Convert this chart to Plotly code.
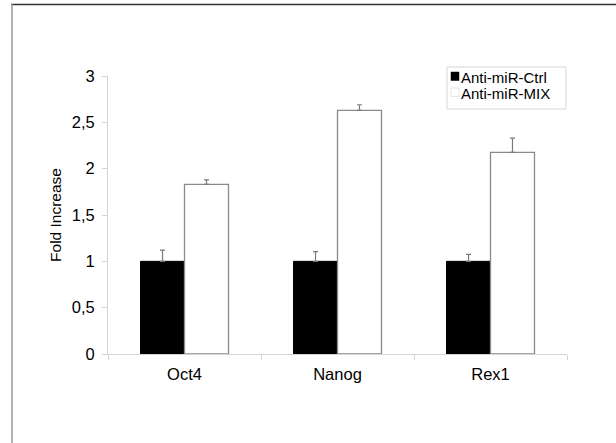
import plotly.graph_objects as go

# Gene expression after anti-miR treatment
genes = ["Oct4", "Nanog", "Rex1"]
ctrl_values = [1.0, 1.0, 1.0]
ctrl_errors = [0.12, 0.105, 0.075]
mix_values = [1.83, 2.63, 2.175]
mix_errors = [0.05, 0.06, 0.155]
series_names = ["Anti-miR-Ctrl", "Anti-miR-MIX"]
y_ticks = [0, 0.5, 1, 1.5, 2, 2.5, 3]

W, H = 616, 443
L, R, T, B = 108, 49, 76, 89
PW, PH = W - L - R, H - T - B


def px(x):
    return (x - L) / PW


def py(y):
    return (H - B - y) / PH


FONT = "Liberation Sans, Arial, sans-serif"
INK = "#000000"

fig = go.Figure()
fig.add_trace(go.Bar(
    x=genes, y=ctrl_values, name=series_names[0],
    marker=dict(color="#000000", line=dict(color="#000000", width=1)),
    error_y=dict(type="data", array=ctrl_errors, arrayminus=[0] * 3,
                 symmetric=False, color="#7a7a7a", thickness=1.2, width=2.5),
    showlegend=False,
))
fig.add_trace(go.Bar(
    x=genes, y=mix_values, name=series_names[1],
    marker=dict(color="#ffffff", line=dict(color="#8a8a8a", width=1.3)),
    error_y=dict(type="data", array=mix_errors, arrayminus=[0] * 3,
                 symmetric=False, color="#7a7a7a", thickness=1.2, width=2.5),
    showlegend=False,
))

shapes = [
    # frame around the figure
    dict(type="line", xref="paper", yref="paper", x0=px(11), x1=px(W), y0=py(4.5), y1=py(4.5),
         line=dict(color="#333333", width=1.5)),
    dict(type="line", xref="paper", yref="paper", x0=px(12), x1=px(12), y0=py(4), y1=py(H),
         line=dict(color="#999999", width=1.5)),
    # legend box
    dict(type="rect", xref="paper", yref="paper", x0=px(447), x1=px(566), y0=py(67), y1=py(109),
         line=dict(color="#d6d6d6", width=1), fillcolor="rgba(0,0,0,0)"),
    dict(type="rect", xref="paper", yref="paper", x0=px(451), x1=px(459), y0=py(72), y1=py(80.5),
         line=dict(color="#000000", width=0.5), fillcolor="#000000"),
    dict(type="rect", xref="paper", yref="paper", x0=px(451), x1=px(459), y0=py(88), y1=py(96.5),
         line=dict(color="#e0e0e0", width=0.8), fillcolor="#ffffff"),
]

annotations = [
    dict(text=series_names[0], xref="paper", yref="paper", x=px(459), y=py(77),
         xanchor="left", yanchor="middle", showarrow=False,
         font=dict(family=FONT, size=15, color=INK)),
    dict(text=series_names[1], xref="paper", yref="paper", x=px(459), y=py(93.5),
         xanchor="left", yanchor="middle", showarrow=False,
         font=dict(family=FONT, size=15, color=INK)),
]

fig.update_layout(
    width=W, height=H,
    margin=dict(l=L, r=R, t=T, b=B, pad=0),
    paper_bgcolor="#ffffff", plot_bgcolor="#ffffff",
    barmode="group", bargap=0.425, bargroupgap=0,
    separators=", ",
    font=dict(family=FONT, color=INK),
    shapes=shapes, annotations=annotations,
    showlegend=False,
)
fig.update_xaxes(
    range=[-0.5, 2.5], showline=True, linecolor="#d4d4d4", linewidth=1,
    ticks="outside", tickson="boundaries", ticklen=5, tickcolor="#d4d4d4",
    showgrid=False, zeroline=False, ticklabelstandoff=5,
    tickfont=dict(family=FONT, size=16.5, color=INK),
)
fig.update_yaxes(
    range=[0, 3], tickvals=y_ticks, showline=True, linecolor="#d4d4d4", linewidth=1,
    ticks="outside", ticklen=5, tickcolor="#d4d4d4",
    showgrid=False, zeroline=False, ticklabelstandoff=4,
    tickfont=dict(family=FONT, size=16.5, color=INK),
    title=dict(text="Fold Increase", standoff=6,
               font=dict(family=FONT, size=15.5, color=INK)),
)

fig.write_html("out.html")
